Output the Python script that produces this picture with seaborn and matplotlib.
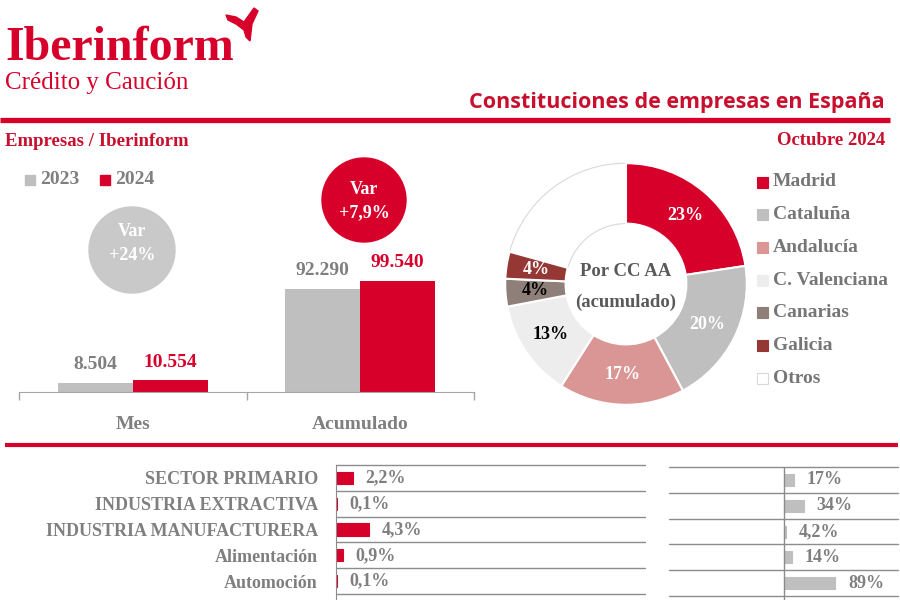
import numpy as np
import pandas as pd
import seaborn as sns
import matplotlib.pyplot as plt
from matplotlib.patches import Circle, Rectangle, Polygon

# --- data ---
periods = ['Mes', 'Acumulado']
years = ['2023', '2024']
empresas_2023 = [8504, 92290]
empresas_2024 = [10554, 99540]
variacion = ['+24%', '+7,9%']

regiones = ['Madrid', 'Cataluña', 'Andalucía', 'C. Valenciana', 'Canarias', 'Galicia', 'Otros']
cuota_regiones = [22.6, 19.6, 16.8, 13.0, 3.7, 3.6, 20.7]

sectores = ['SECTOR PRIMARIO', 'INDUSTRIA EXTRACTIVA', 'INDUSTRIA MANUFACTURERA',
            'Alimentación', 'Automoción']
peso_sector = [2.2, 0.1, 4.3, 0.9, 0.1]
var_sector = [17, 34, 4.2, 14, 89]

RED = '#D7002B'
GREY_BAR = '#BFBFBF'
GREY_TXT = '#7F7F7F'
LINE = '#8C8C8C'
pie_colors = [RED, '#BFBFBF', '#DA9694', '#EDEDED', '#8E7F79', '#953734', 'white']
pct_colors = ['white', 'white', 'white', 'black', 'black', 'white', 'white']

sns.set_style('white')
plt.rcParams['font.family'] = ['Liberation Serif', 'DejaVu Sans']

W, H = 900, 600
fig = plt.figure(figsize=(9, 6), dpi=100)


def px_axes(x0, y0, x1, y1):
    a = fig.add_axes([x0 / W, 1 - y1 / H, (x1 - x0) / W, (y1 - y0) / H])
    a.set_facecolor('none')
    return a


def fmt_pct(v):
    if float(v).is_integer():
        return f'{v:.0f}%'
    return f'{v:.1f}%'.replace('.', ',')


# background layer in pixel coordinates (y down)
bg = fig.add_axes([0, 0, 1, 1])
bg.set_xlim(0, W)
bg.set_ylim(H, 0)
bg.axis('off')

# header
bg.text(5, 60, 'Iberinform', color=RED, fontsize=34.5, fontweight='bold', va='baseline')
bg.text(5, 89, 'Crédito y Caución', color=RED, fontsize=18, va='baseline')
bg.add_patch(Polygon([(226, 15), (236, 17), (244, 22), (254, 8), (258, 11), (252, 24),
                      (250, 41), (246, 37), (244, 30), (236, 24), (228, 20)], color=RED))
bg.text(885, 108, 'Constituciones de empresas en España', family=['Open Sans', 'DejaVu Sans'],
        fontweight='bold', fontsize=15.5, color='#C8102E', ha='right', va='baseline')
bg.plot([0, 890], [120, 120], color=RED, lw=3.8, solid_capstyle='butt')
bg.text(5, 146, 'Empresas / Iberinform', color='#C8102E', fontsize=13.5, fontweight='bold', va='baseline')
bg.text(885, 145, 'Octubre 2024', color='#C8102E', fontsize=13.5, fontweight='bold',
        ha='right', va='baseline')

# year legend
for x, yr, c in zip([25, 100], years, [GREY_BAR, RED]):
    bg.add_patch(Rectangle((x, 175), 10, 10, color=c))
    bg.text(x + 15, 180, yr, fontsize=14, fontweight='bold', color=GREY_TXT, va='center')

# variation bubbles
bubbles = [(132, 250, 43, '#C9C9C9', 232, 255), (364, 200, 42, RED, 189, 213)]
for (cx, cy, r, col, y1, y2), v in zip(bubbles, variacion):
    bg.add_patch(Circle((cx, cy), r, color=col))
    bg.text(cx, y1, 'Var', color='white', fontsize=13, fontweight='bold', ha='center', va='center')
    bg.text(cx, y2, v, color='white', fontsize=13, fontweight='bold', ha='center', va='center')

# --- grouped bar chart ---
df = pd.DataFrame({'periodo': periods * 2,
                   'año': [years[0]] * 2 + [years[1]] * 2,
                   'empresas': empresas_2023 + empresas_2024})
ax = px_axes(19.5, 160, 473.5, 392)
sns.barplot(data=df, x='periodo', y='empresas', hue='año', palette=[GREY_BAR, RED],
            width=0.665, saturation=1, linewidth=0, legend=False, ax=ax)
ax.set_xlim(-0.5, 1.5)
ax.set_ylim(0, 208000)
for cont, col in zip(ax.containers, [GREY_TXT, RED]):
    ax.bar_label(cont, labels=[f'{v:,.0f}'.replace(',', '.') for v in cont.datavalues],
                 padding=7, color=col, fontsize=14, fontweight='bold')
for s in ['top', 'right', 'left']:
    ax.spines[s].set_visible(False)
ax.spines['bottom'].set_color('#A6A6A6')
ax.set_yticks([])
ax.set_xticks([-0.5, 0.5, 1.5], minor=True)
ax.tick_params(axis='x', which='both', bottom=True)
ax.tick_params(axis='x', which='minor', length=6, color='#A6A6A6', width=1)
ax.tick_params(axis='x', which='major', length=0, pad=17, labelsize=14, labelcolor=GREY_TXT)
for lbl in ax.get_xticklabels():
    lbl.set_fontweight('bold')
ax.set_xlabel('')
ax.set_ylabel('')

# --- donut by region ---
pa = px_axes(504, 162, 748, 406)
wedges, texts, autotexts = pa.pie(
    cuota_regiones, colors=pie_colors, startangle=90, counterclock=False,
    wedgeprops=dict(width=0.5, edgecolor='white', linewidth=1.5),
    autopct='%.0f%%', pctdistance=0.75,
    textprops=dict(fontsize=13, fontweight='bold'))
pa.set_xlim(-1.01, 1.01)
pa.set_ylim(-1.01, 1.01)
for t, c in zip(autotexts, pct_colors):
    t.set_color(c)
autotexts[-1].set_visible(False)
wedges[-1].set_edgecolor('#D9D9D9')
wedges[-1].set_linewidth(0.8)
wedges[-1].set_zorder(0)
pa.text(0, 0.1, 'Por CC AA', fontsize=13.5, fontweight='bold', color='#595959', ha='center', va='center')
pa.text(0, -0.15, '(acumulado)', fontsize=13.5, fontweight='bold', color='#595959', ha='center', va='center')

for i, (reg, col) in enumerate(zip(regiones, pie_colors)):
    y = 182 + i * 32.7
    bg.add_patch(Rectangle((757, y - 5.5), 11, 11, facecolor=col,
                           edgecolor='#D9D9D9' if col == 'white' else col, lw=0.8))
    bg.text(773, y, reg, fontsize=14, fontweight='bold', color='#767676', va='center')

# --- sector tables ---
bg.plot([5, 898], [445, 445], color=RED, lw=3, solid_capstyle='butt')
dfs = pd.DataFrame({'sector': sectores, 'peso': peso_sector, 'var': var_sector})

bl = px_axes(336, 465, 645, 600)
sns.barplot(data=dfs, x='peso', y='sector', color=RED, orient='h', width=0.47,
            saturation=1, linewidth=0.8, edgecolor=RED, ax=bl)
bl.set_xlim(0, 40.1)
bl.set_ylim(4.73, -0.5)
for y in np.arange(-0.5, len(sectores) + 0.5):
    bl.axhline(y, color=LINE, lw=1, clip_on=False)
for s in ['top', 'right', 'bottom']:
    bl.spines[s].set_visible(False)
bl.spines['left'].set_color(LINE)
bl.set_xticks([])
bl.tick_params(axis='y', length=0, pad=13, labelsize=13, labelcolor=GREY_TXT)
for lbl in bl.get_yticklabels():
    lbl.set_fontweight('bold')
bl.bar_label(bl.containers[0], labels=[fmt_pct(v) for v in peso_sector], padding=9,
             fontsize=13, fontweight='bold', color=GREY_TXT)
bl.set_xlabel('')
bl.set_ylabel('')

br = px_axes(669, 467, 898, 600)
sns.barplot(data=dfs, x='var', y='sector', color=GREY_BAR, orient='h', width=0.46,
            saturation=1, linewidth=0.8, edgecolor=GREY_BAR, ax=br)
br.set_xlim(-198, 197)
br.set_ylim(4.65, -0.5)
br.axvline(0, color=LINE, lw=1)
for y in np.arange(-0.5, len(sectores) + 0.5):
    br.axhline(y, color=LINE, lw=1, clip_on=False)
for s in br.spines.values():
    s.set_visible(False)
br.set_xticks([])
br.set_yticks([])
br.bar_label(br.containers[0], labels=[fmt_pct(v) for v in var_sector], padding=9,
             fontsize=13, fontweight='bold', color=GREY_TXT)
br.set_xlabel('')
br.set_ylabel('')

fig.savefig('out.png', dpi=100, facecolor='white')
